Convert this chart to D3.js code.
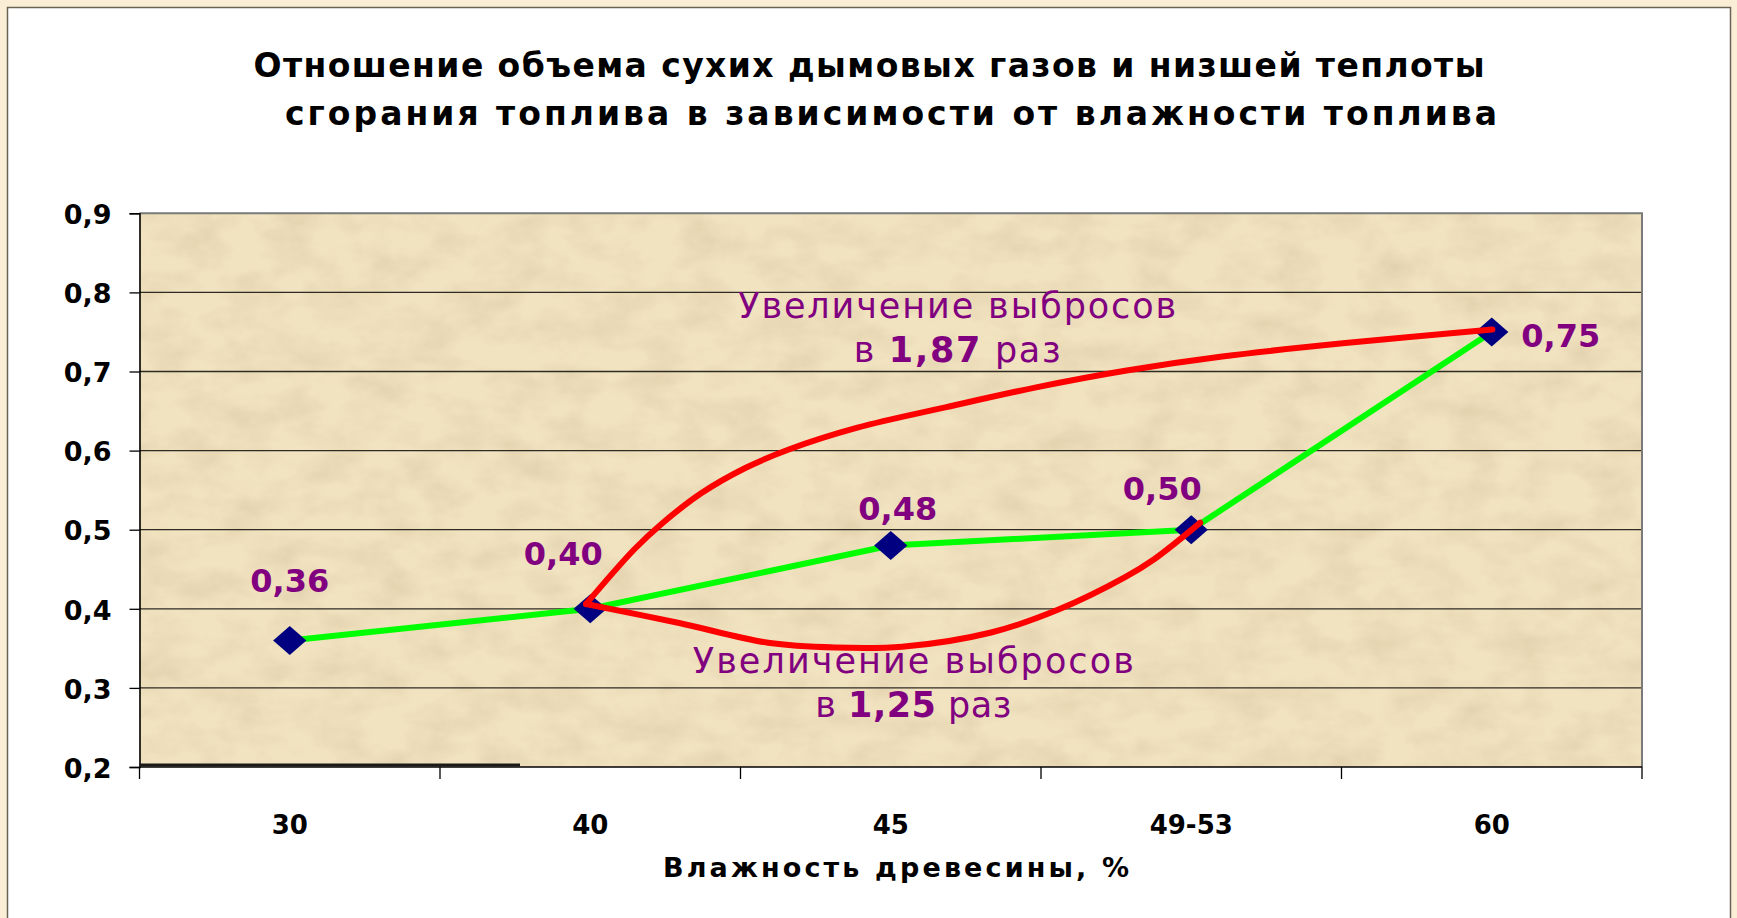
<!DOCTYPE html>
<html>
<head>
<meta charset="utf-8">
<script src="https://cdn.jsdelivr.net/npm/d3@7"></script>
<style>
  html, body { margin: 0; padding: 0; background: #fbeed6; }
  svg { display: block; }
</style>
</head>
<body>
<svg id="chart" width="1737" height="918"></svg>
<script>
// Ratio of dry flue gas volume to lower heating value vs. wood moisture
const categories = ["30", "40", "45", "49-53", "60"];
const values = [0.36, 0.40, 0.48, 0.50, 0.75];
const valueLabels = ["0,36", "0,40", "0,48", "0,50", "0,75"];
const yTicks = [0.2, 0.3, 0.4, 0.5, 0.6, 0.7, 0.8, 0.9];
const yTickLabels = ["0,2", "0,3", "0,4", "0,5", "0,6", "0,7", "0,8", "0,9"];
const titleLines = [
  "Отношение объема сухих дымовых газов и низшей теплоты",
  "сгорания топлива в зависимости от влажности топлива"
];
const xTitle = "Влажность древесины, %";

// Hand-drawn red arcs, given as (category position, value)
const upperArc = [
  [0.986, 0.406], [1.146, 0.475], [1.236, 0.507], [1.369, 0.546], [1.516, 0.578],
  [1.665, 0.602], [1.889, 0.629], [2.185, 0.655], [2.484, 0.680], [2.780, 0.701],
  [3.103, 0.719], [3.513, 0.736], [4.002, 0.753]
];
const lowerArc = [
  [0.986, 0.406], [1.296, 0.382], [1.592, 0.357], [1.815, 0.351], [2.038, 0.352],
  [2.334, 0.370], [2.558, 0.399], [2.780, 0.440], [2.874, 0.462], [3.030, 0.509]
];
const arcNotes = [
  { pos: 2.221, value: 0.768, widths: [438, 207],
    lines: [["Увеличение выбросов"], ["в ", "1,87", " раз"]] },
  { pos: 2.075, value: 0.3185, widths: [441, 196],
    lines: [["Увеличение выбросов"], ["в ", "1,25", " раз"]] }
];

// label placement around each marker (dx, dy in px)
const labelShift = [[0, -48], [-27, -44], [7, -26], [-29, -30], [69, 15]];

const W = 1737, H = 918;
const plot = { left: 139.5, right: 1642, top: 213.3, bottom: 767 };
const svg = d3.select("#chart");

// frame
svg.append("rect").attr("x", 0).attr("y", 0).attr("width", W).attr("height", H).attr("fill", "#fbeed6");
svg.append("rect").attr("x", 7.5).attr("y", 7.5).attr("width", 1723).attr("height", 930)
  .attr("fill", "#ffffff").attr("stroke", "#6b6256").attr("stroke-width", 1.5);

// parchment texture
const defs = svg.append("defs");
const f = defs.append("filter").attr("id", "paper").attr("x", 0).attr("y", 0).attr("width", 1).attr("height", 1);
f.append("feTurbulence").attr("type", "fractalNoise").attr("baseFrequency", "0.022 0.035")
  .attr("numOctaves", 4).attr("seed", 11).attr("result", "n");
f.append("feColorMatrix").attr("in", "n").attr("type", "matrix")
  .attr("values", "0 0 0 0 0.66  0 0 0 0 0.54  0 0 0 0 0.34  0 0 0 0.9 -0.33");

const x = d3.scaleBand().domain(categories).range([plot.left, plot.right]).paddingInner(0).paddingOuter(0);
const cx = c => x(c) + x.bandwidth() / 2;
const xPos = d3.scaleLinear().domain([0, categories.length - 1])
  .range([cx(categories[0]), cx(categories[categories.length - 1])]);
const y = d3.scaleLinear().domain([0.2, 0.9]).range([plot.bottom, plot.top]);

svg.append("rect").attr("x", plot.left).attr("y", plot.top)
  .attr("width", plot.right - plot.left).attr("height", plot.bottom - plot.top).attr("fill", "#f2e3c0");
svg.append("rect").attr("x", plot.left).attr("y", plot.top)
  .attr("width", plot.right - plot.left).attr("height", plot.bottom - plot.top)
  .attr("fill", "#000").attr("filter", "url(#paper)");

// grid
svg.append("g").selectAll("line").data(yTicks.filter(t => t > 0.2 && t < 0.9)).join("line")
  .attr("x1", plot.left).attr("x2", plot.right)
  .attr("y1", d => y(d)).attr("y2", d => y(d))
  .attr("stroke", "#2e2a24").attr("stroke-width", 1.3);
// plot border (top, right)
svg.append("path")
  .attr("d", `M${plot.left},${plot.top}H${plot.right}V${plot.bottom}`)
  .attr("fill", "none").attr("stroke", "#7a7a7a").attr("stroke-width", 2);

// y axis
const yAxis = d3.axisLeft(y).tickValues(yTicks).tickSize(10)
  .tickFormat((d, i) => yTickLabels[i]).tickPadding(18);
const gy = svg.append("g").attr("transform", `translate(${plot.left},0)`).call(yAxis);
gy.select(".domain").attr("stroke", "#000").attr("stroke-width", 1.6);
gy.selectAll(".tick line").attr("stroke", "#000").attr("stroke-width", 1.3);
gy.selectAll(".tick text").attr("font-family", "DejaVu Sans").attr("font-weight", "bold")
  .attr("font-size", 27).attr("fill", "#000").attr("dy", "0.38em");

// x axis: ticks at category boundaries
const gx = svg.append("g").attr("transform", `translate(0,${plot.bottom})`);
gx.append("line").attr("x1", plot.left).attr("x2", plot.right).attr("stroke", "#000").attr("stroke-width", 1.6);
const bounds = categories.map(c => x(c)).concat([plot.right]);
gx.selectAll("line.tk").data(bounds).join("line").attr("class", "tk")
  .attr("x1", d => d).attr("x2", d => d).attr("y1", 0).attr("y2", 12)
  .attr("stroke", "#000").attr("stroke-width", 1.3);
gx.selectAll("text").data(categories).join("text")
  .attr("x", d => cx(d)).attr("y", 67).attr("text-anchor", "middle")
  .attr("font-family", "DejaVu Sans").attr("font-weight", "bold").attr("font-size", 26)
  .attr("fill", "#000").text(d => d);
// heavier base segment along the lower left of the plot
svg.append("line").attr("x1", plot.left).attr("x2", 520).attr("y1", plot.bottom - 2).attr("y2", plot.bottom - 2)
  .attr("stroke", "#1c1a18").attr("stroke-width", 3);

// title
const titleLayout = [{ cx: 869, y: 77, w: 1231 }, { cx: 891, y: 125, w: 1212 }];
titleLines.forEach((t, i) => {
  svg.append("text").attr("x", titleLayout[i].cx).attr("y", titleLayout[i].y).attr("text-anchor", "middle")
    .attr("font-family", "DejaVu Sans").attr("font-weight", "bold").attr("font-size", 33)
    .attr("textLength", titleLayout[i].w).attr("lengthAdjust", "spacing")
    .attr("fill", "#000").text(t);
});
svg.append("text").attr("x", 896).attr("y", 877).attr("text-anchor", "middle")
  .attr("font-family", "DejaVu Sans").attr("font-weight", "bold").attr("font-size", 27)
  .attr("textLength", 466).attr("lengthAdjust", "spacing").attr("fill", "#000").text(xTitle);

// data line
const pts = categories.map((c, i) => [cx(c), y(values[i])]);
svg.append("path").attr("d", d3.line()(pts)).attr("fill", "none")
  .attr("stroke", "#00ff00").attr("stroke-width", 6).attr("stroke-linejoin", "round");

// markers
svg.append("g").selectAll("path").data(pts).join("path")
  .attr("d", d3.symbol(d3.symbolSquare, 441)())
  .attr("transform", d => `translate(${d[0]},${d[1]}) scale(1.12,0.98) rotate(45)`)
  .attr("fill", "#000080");

// red arcs
const arcLine = d3.line().x(d => xPos(d[0])).y(d => y(d[1])).curve(d3.curveCatmullRom.alpha(0.5));
[upperArc, lowerArc].forEach(a => {
  svg.append("path").attr("d", arcLine(a)).attr("fill", "none")
    .attr("stroke", "#ff0000").attr("stroke-width", 6).attr("stroke-linecap", "round");
});

// value labels
svg.append("g").selectAll("text").data(pts).join("text")
  .attr("x", (d, i) => d[0] + labelShift[i][0]).attr("y", (d, i) => d[1] + labelShift[i][1])
  .attr("text-anchor", "middle").attr("font-family", "DejaVu Sans").attr("font-weight", "bold")
  .attr("font-size", 32).attr("fill", "#800080").text((d, i) => valueLabels[i]);

// arc notes
arcNotes.forEach(n => {
  n.lines.forEach((parts, li) => {
    const t = svg.append("text").attr("x", xPos(n.pos)).attr("y", y(n.value) + li * 44)
      .attr("text-anchor", "middle").attr("font-family", "DejaVu Sans").attr("font-size", 35)
      .attr("textLength", n.widths[li]).attr("lengthAdjust", "spacing")
      .attr("fill", "#800080");
    parts.forEach(p => {
      t.append("tspan").attr("font-weight", /\d/.test(p) ? "bold" : "normal").text(p);
    });
  });
});
</script>
</body>
</html>
